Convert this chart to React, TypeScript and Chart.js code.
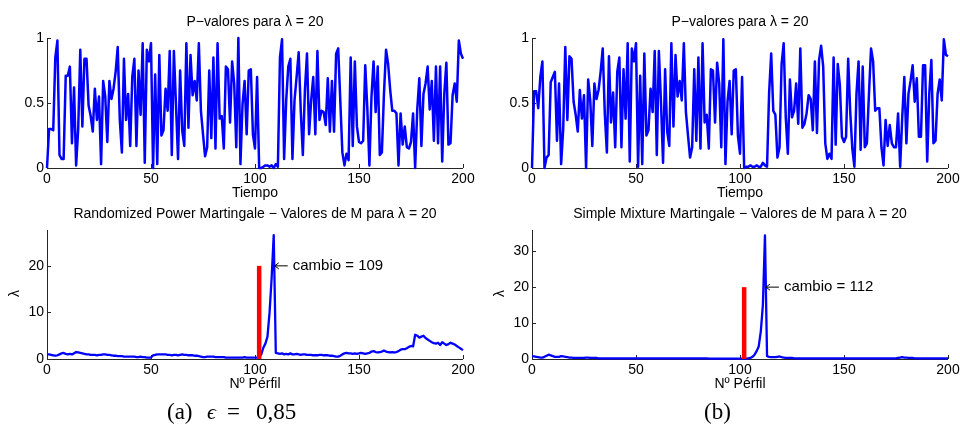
import React, { useEffect, useRef } from "react";
import { Chart, registerables } from "chart.js";

Chart.register(...registerables);

const FONT = '"Liberation Sans", Arial, Helvetica, sans-serif';
const BLUE = "#0000ff";
const RED = "#ff0000";
const AXIS = "#262626";

// x axis ticks (profile / time index)
const xTicks = [0, 50, 100, 150, 200];
const pTicks = [0, 0.5, 1];
const pTickLabels = ["0", "0.5", "1"];
const mTicksA = [0, 10, 20];
const mTickLabelsA = ["0", "10", "20"];
const mTicksB = [0, 10, 20, 30];
const mTickLabelsB = ["0", "10", "20", "30"];

// P-values, panel (a), index 0..200
const pValuesA = [
  0, 0.30, 0.30, 0.29, 0.85, 0.98, 0.10, 0.07, 0.07, 0.71,
  0.71, 0.78, 0.19, 0.62, 0.02, 0.30, 0.91, 0.32, 0.84, 0.84,
  0.48, 0.40, 0.28, 0.61, 0.37, 0.55, 0.03, 0.67, 0.55, 0.20,
  0.67, 0.53, 0.61, 0.74, 0.93, 0.37, 0.12, 0.84, 0.37, 0.57,
  0.17, 0.70, 0.84, 0.17, 0.75, 0.41, 0.96, 0.04, 0.91, 0.82,
  0.96, 0.00, 0.72, 0.03, 0.87, 0.25, 0.29, 0.61, 0.44, 0.90,
  0.10, 0.90, 0.49, 0.07, 0.75, 0.29, 0.17, 0.96, 0.31, 0.87,
  0.56, 0.67, 0.52, 0.96, 0.44, 0.26, 0.09, 0.16, 0.75, 0.23,
  0.85, 0.15, 0.96, 0.38, 0.40, 0.15, 0.78, 0.76, 0.35, 0.82,
  0.65, 0.16, 1.00, 0.03, 0.49, 0.67, 0.26, 0.75, 0.76, 0.26,
  0.15, 0.70, 0.00, 0.00, 0.01, 0.02, 0.02, 0.01, 0.02, 0.00,
  0.03, 0.01, 0.85, 0.99, 0.07, 0.52, 0.78, 0.84, 0.07, 0.52,
  0.70, 0.89, 0.44, 0.10, 0.60, 0.88, 0.26, 0.52, 0.70, 0.26,
  0.90, 0.37, 0.44, 0.43, 0.33, 0.69, 0.28, 0.67, 0.28, 0.88,
  0.92, 0.52, 0.12, 0.02, 0.11, 0.06, 0.85, 0.17, 0.82, 0.32,
  0.20, 0.19, 0.21, 0.79, 0.46, 0.02, 0.55, 0.82, 0.43, 0.78,
  0.10, 0.12, 0.57, 0.91, 0.80, 0.60, 0.44, 0.44, 0.42, 0.02,
  0.42, 0.18, 0.32, 0.16, 0.15, 0.20, 0.42, 0.00, 0.45, 0.69,
  0.17, 0.57, 0.65, 0.78, 0.45, 0.67, 0.21, 0.78, 0.19, 0.78,
  0.05, 0.57, 0.81, 0.18, 0.19, 0.56, 0.65, 0.51, 0.98, 0.88,
  0.84,
];

// P-values, panel (b), index 0..200
const pValuesB = [
  0, 0.59, 0.59, 0.46, 0.70, 0.82, 0.00, 0.08, 0.10, 0.66,
  0.70, 0.74, 0.21, 0.65, 0.03, 0.30, 0.93, 0.37, 0.86, 0.84,
  0.51, 0.41, 0.28, 0.60, 0.38, 0.56, 0.00, 0.68, 0.52, 0.17,
  0.65, 0.53, 0.60, 0.74, 0.92, 0.42, 0.12, 0.86, 0.35, 0.58,
  0.16, 0.74, 0.85, 0.16, 0.76, 0.38, 0.96, 0.05, 0.92, 0.82,
  0.96, 0.01, 0.71, 0.03, 0.88, 0.25, 0.29, 0.61, 0.43, 0.90,
  0.10, 0.90, 0.51, 0.04, 0.76, 0.28, 0.17, 0.96, 0.32, 0.87,
  0.55, 0.67, 0.52, 0.96, 0.43, 0.25, 0.08, 0.16, 0.76, 0.21,
  0.85, 0.15, 0.96, 0.35, 0.41, 0.15, 0.76, 0.75, 0.35, 0.81,
  0.65, 0.16, 0.99, 0.03, 0.51, 0.67, 0.26, 0.75, 0.76, 0.25,
  0.11, 0.70, 0.00, 0.01, 0.01, 0.02, 0.01, 0.01, 0.02, 0.01,
  0.01, 0.04, 0.02, 0.01, 0.58, 0.88, 0.44, 0.41, 0.08, 0.16,
  0.80, 0.96, 0.39, 0.11, 0.68, 0.39, 0.44, 0.65, 0.34, 0.92,
  0.31, 0.34, 0.42, 0.56, 0.53, 0.29, 0.82, 0.27, 0.83, 0.94,
  0.78, 0.19, 0.07, 0.11, 0.07, 0.85, 0.18, 0.80, 0.64, 0.24,
  0.20, 0.24, 0.84, 0.43, 0.15, 0.01, 0.57, 0.82, 0.14, 0.78,
  0.16, 0.19, 0.57, 0.92, 0.82, 0.44, 0.46, 0.46, 0.16, 0.02,
  0.37, 0.17, 0.33, 0.19, 0.16, 0.16, 0.42, 0.01, 0.39, 0.70,
  0.19, 0.57, 0.67, 0.79, 0.51, 0.69, 0.24, 0.24, 0.79, 0.79,
  0.05, 0.57, 0.83, 0.19, 0.21, 0.57, 0.68, 0.52, 0.99, 0.87,
  0.86,
];

// Randomized Power Martingale values, index 0..200
const martingaleA = [
  1.0, 1.0, 0.9, 0.8, 0.7, 0.8, 1.0, 1.2, 1.3, 1.1,
  1.0, 1.1, 1.0, 1.2, 1.5, 1.4, 1.3, 1.2, 1.1, 1.0,
  1.0, 0.9, 0.9, 0.9, 0.8, 0.9, 0.9, 1.0, 1.0, 0.9,
  0.9, 0.8, 0.7, 0.7, 0.6, 0.6, 0.6, 0.5, 0.5, 0.5,
  0.5, 0.5, 0.5, 0.4, 0.4, 0.5, 0.4, 0.4, 0.3, 0.3,
  0.3, 0.8, 0.9, 1.0, 1.0, 1.0, 1.0, 1.0, 0.9, 0.9,
  0.8, 0.9, 0.9, 0.8, 0.9, 1.0, 0.9, 0.9, 0.8, 0.8,
  0.8, 0.7, 0.7, 0.6, 0.5, 0.4, 0.4, 0.5, 0.5, 0.5,
  0.5, 0.4, 0.4, 0.4, 0.4, 0.4, 0.3, 0.3, 0.3, 0.3,
  0.3, 0.3, 0.3, 0.3, 0.3, 0.4, 0.3, 0.3, 0.3, 0.3,
  0.3, 0.3, 0.3, 1.0, 2.4, 3.3, 4.8, 10.0, 17.4, 26.6,
  1.3, 1.2, 1.1, 1.2, 1.0, 1.1, 1.0, 1.2, 1.0, 1.0,
  1.1, 1.0, 0.9, 1.0, 1.0, 0.9, 0.9, 0.9, 0.8, 0.8,
  0.8, 0.9, 0.9, 0.8, 0.8, 0.8, 0.7, 0.7, 0.6, 0.5,
  0.5, 0.7, 1.0, 1.2, 1.3, 1.2, 1.2, 1.1, 1.2, 1.1,
  1.2, 1.3, 1.2, 1.1, 1.2, 1.3, 1.6, 1.7, 1.5, 1.4,
  1.5, 1.6, 1.8, 1.6, 1.5, 1.4, 1.5, 1.4, 1.5, 1.7,
  2.0, 2.1, 2.1, 2.3, 2.6, 2.8, 2.7, 5.2, 5.0, 4.6,
  4.8, 5.0, 4.5, 4.2, 3.9, 3.6, 3.4, 3.3, 3.5, 3.0,
  3.6, 3.3, 3.0, 3.2, 3.5, 3.3, 3.1, 2.8, 2.5, 2.2,
  1.9,
];

// Simple Mixture Martingale values, index 0..200
const martingaleB = [
  0.8, 0.7, 0.6, 0.5, 0.4, 0.4, 0.6, 0.9, 1.2, 1.0,
  0.8, 0.6, 0.6, 0.6, 0.8, 0.7, 0.6, 0.5, 0.4, 0.4,
  0.3, 0.3, 0.3, 0.3, 0.3, 0.3, 0.4, 0.4, 0.3, 0.3,
  0.3, 0.3, 0.2, 0.2, 0.2, 0.2, 0.2, 0.2, 0.2, 0.2,
  0.2, 0.2, 0.2, 0.2, 0.2, 0.2, 0.2, 0.2, 0.2, 0.2,
  0.2, 0.2, 0.2, 0.2, 0.2, 0.2, 0.2, 0.2, 0.2, 0.2,
  0.2, 0.2, 0.2, 0.2, 0.2, 0.2, 0.2, 0.2, 0.2, 0.2,
  0.2, 0.2, 0.2, 0.2, 0.2, 0.2, 0.2, 0.2, 0.2, 0.2,
  0.2, 0.2, 0.2, 0.2, 0.2, 0.1, 0.1, 0.1, 0.1, 0.1,
  0.1, 0.1, 0.1, 0.1, 0.1, 0.1, 0.1, 0.1, 0.1, 0.1,
  0.1, 0.1, 0.1, 0.1, 0.2, 0.3, 0.6, 1.2, 2.2, 3.5,
  7.7, 15.0, 34.4, 0.8, 0.6, 0.5, 0.5, 0.5, 0.6, 0.7,
  0.5, 0.4, 0.3, 0.3, 0.3, 0.3, 0.2, 0.2, 0.2, 0.2,
  0.2, 0.2, 0.2, 0.2, 0.2, 0.2, 0.2, 0.2, 0.2, 0.2,
  0.2, 0.2, 0.2, 0.2, 0.2, 0.2, 0.2, 0.2, 0.2, 0.2,
  0.2, 0.2, 0.2, 0.2, 0.2, 0.2, 0.2, 0.2, 0.2, 0.2,
  0.2, 0.2, 0.2, 0.2, 0.2, 0.2, 0.2, 0.2, 0.2, 0.2,
  0.2, 0.2, 0.2, 0.2, 0.2, 0.2, 0.3, 0.4, 0.5, 0.4,
  0.4, 0.3, 0.3, 0.3, 0.2, 0.2, 0.2, 0.2, 0.2, 0.2,
  0.2, 0.2, 0.2, 0.2, 0.2, 0.2, 0.2, 0.2, 0.2, 0.2,
  0.2,
];

// true change point (red bar) and detected change
const trueChangeA = 102;
const trueChangeB = 102;
const barHeight = 20;
const detectedA = 109;
const detectedB = 112;
const yMaxA = 27.7;
const yMaxB = 35.9;

const decorPlugin = {
  id: "decor",
  beforeDatasetsDraw(chart: any) {
    const { ctx, chartArea: ca, scales } = chart;
    ctx.save();
    ctx.strokeStyle = AXIS;
    ctx.lineWidth = 1;
    ctx.beginPath();
    ctx.moveTo(ca.left + 0.5, ca.top);
    ctx.lineTo(ca.left + 0.5, ca.bottom + 0.5);
    ctx.lineTo(ca.right, ca.bottom + 0.5);
    // inward ticks
    for (const t of scales.x.ticks) {
      const px = Math.round(scales.x.getPixelForValue(t.value)) + 0.5;
      ctx.moveTo(px, ca.bottom);
      ctx.lineTo(px, ca.bottom - 4);
    }
    for (const t of scales.y.ticks) {
      const py = Math.round(scales.y.getPixelForValue(t.value)) + 0.5;
      ctx.moveTo(ca.left, py);
      ctx.lineTo(ca.left + 4, py);
    }
    ctx.stroke();
    ctx.restore();
  },
  afterDraw(chart: any, _args: any, o: any) {
    const { ctx, chartArea: ca, scales } = chart;
    ctx.save();
    ctx.fillStyle = "#000";
    ctx.font = `14px ${FONT}`;
    ctx.textAlign = "center";
    ctx.textBaseline = "middle";
    const cx = (ca.left + ca.right) / 2;
    ctx.fillText(o.title, cx, ca.top - 16);
    ctx.fillText(o.xlabel, cx, ca.bottom + 25.5);
    if (o.ylabel) {
      ctx.save();
      ctx.translate(ca.left - 32, (ca.top + ca.bottom) / 2 - 1);
      ctx.rotate(-Math.PI / 2);
      ctx.fillText(o.ylabel, 0, 0);
      ctx.restore();
    }
    if (o.annot) {
      const tx = scales.x.getPixelForValue(o.annot.x);
      const ty = scales.y.getPixelForValue(o.annot.y);
      ctx.strokeStyle = "#000";
      ctx.lineWidth = 1;
      ctx.beginPath();
      ctx.moveTo(tx + 1, ty);
      ctx.lineTo(tx + 14, ty);
      ctx.moveTo(tx + 5, ty - 3);
      ctx.lineTo(tx + 1, ty);
      ctx.lineTo(tx + 5, ty + 3);
      ctx.stroke();
      ctx.font = `15px ${FONT}`;
      ctx.textAlign = "left";
      ctx.fillText(`cambio = ${o.annot.x}`, tx + 19, ty);
    }
    ctx.restore();
  },
};

type PanelSpec = {
  series: number[];
  yMax: number;
  yTicks: number[];
  yTickLabels: string[];
  title: string;
  xlabel: string;
  ylabel?: string;
  bar?: { x: number; h: number };
  annot?: { x: number; y: number };
  box: { left: number; right: number; top: number; bottom: number };
  lineWidth: number;
};

function makeConfig(s: PanelSpec): any {
  const datasets: any[] = [
    {
      data: s.series.map((v, i) => ({ x: i, y: v })),
      borderColor: BLUE,
      borderWidth: s.lineWidth,
      pointRadius: 0,
      tension: 0,
      borderJoinStyle: "round",
      clip: false,
      order: 1,
    },
  ];
  if (s.bar) {
    datasets.push({
      data: [
        { x: s.bar.x, y: 0 },
        { x: s.bar.x, y: s.bar.h },
      ],
      borderColor: RED,
      borderWidth: 4.5,
      borderCapStyle: "butt",
      pointRadius: 0,
      clip: false,
      order: 0,
    });
  }
  const tickFont = { family: FONT, size: 14 };
  return {
    type: "line",
    data: { datasets },
    plugins: [decorPlugin],
    options: {
      responsive: false,
      devicePixelRatio: 1,
      animation: false,
      events: [],
      layout: { padding: { left: 0, bottom: 0, top: s.box.top, right: s.box.right } },
      plugins: {
        legend: { display: false },
        tooltip: { enabled: false },
        title: { display: false },
        decor: { title: s.title, xlabel: s.xlabel, ylabel: s.ylabel, annot: s.annot },
      },
      scales: {
        x: {
          type: "linear",
          min: 0,
          max: 200,
          afterBuildTicks: (sc: any) => {
            sc.ticks = xTicks.map((v) => ({ value: v }));
          },
          afterFit: (sc: any) => {
            sc.height = s.box.bottom;
            sc.paddingLeft = 0;
            sc.paddingRight = 0;
          },
          grid: { display: false, drawTicks: false },
          border: { display: false },
          ticks: {
            autoSkip: false,
            maxRotation: 0,
            padding: 2.5,
            color: "#000",
            font: tickFont,
            callback: (v: any) => String(v),
          },
        },
        y: {
          type: "linear",
          min: 0,
          max: s.yMax,
          afterBuildTicks: (sc: any) => {
            sc.ticks = s.yTicks.map((v) => ({ value: v }));
          },
          afterFit: (sc: any) => {
            sc.width = s.box.left;
            sc.paddingTop = 0;
            sc.paddingBottom = 0;
          },
          grid: { display: false, drawTicks: false },
          border: { display: false },
          ticks: {
            autoSkip: false,
            padding: 3,
            color: "#000",
            font: tickFont,
            callback: (_v: any, i: number) => s.yTickLabels[i],
          },
        },
      },
    },
  };
}

function Panel({ left, top, spec }: { left: number; top: number; spec: PanelSpec }) {
  const ref = useRef<HTMLCanvasElement>(null);
  useEffect(() => {
    const chart = new Chart(ref.current as HTMLCanvasElement, makeConfig(spec));
    return () => chart.destroy();
  }, []);
  return (
    <canvas
      ref={ref}
      width={480}
      height={200}
      style={{ position: "absolute", left, top, width: 480, height: 200 }}
    />
  );
}

const boxLeftCol = { left: 47, right: 17 };
const boxRightCol = { left: 52, right: 12 };
const boxTopRow = { top: 38, bottom: 32 };
const boxBottomRow = { top: 30, bottom: 41 };

const specs: { left: number; top: number; spec: PanelSpec }[] = [
  {
    left: 0,
    top: 0,
    spec: {
      series: pValuesA,
      yMax: 1,
      yTicks: pTicks,
      yTickLabels: pTickLabels,
      title: "P\u2212valores para \u03bb = 20",
      xlabel: "Tiempo",
      box: { ...boxLeftCol, ...boxTopRow },
      lineWidth: 2.5,
    },
  },
  {
    left: 480,
    top: 0,
    spec: {
      series: pValuesB,
      yMax: 1,
      yTicks: pTicks,
      yTickLabels: pTickLabels,
      title: "P\u2212valores para \u03bb = 20",
      xlabel: "Tiempo",
      box: { ...boxRightCol, ...boxTopRow },
      lineWidth: 2.5,
    },
  },
  {
    left: 0,
    top: 200,
    spec: {
      series: martingaleA,
      yMax: yMaxA,
      yTicks: mTicksA,
      yTickLabels: mTickLabelsA,
      title: "Randomized Power Martingale \u2212 Valores de M para \u03bb = 20",
      xlabel: "N\u00ba P\u00e9rfil",
      ylabel: "\u03bb",
      bar: { x: trueChangeA, h: barHeight },
      annot: { x: detectedA, y: barHeight },
      box: { ...boxLeftCol, ...boxBottomRow },
      lineWidth: 2.3,
    },
  },
  {
    left: 480,
    top: 200,
    spec: {
      series: martingaleB,
      yMax: yMaxB,
      yTicks: mTicksB,
      yTickLabels: mTickLabelsB,
      title: "Simple Mixture Martingale \u2212 Valores de M para \u03bb = 20",
      xlabel: "N\u00ba P\u00e9rfil",
      ylabel: "\u03bb",
      bar: { x: trueChangeB, h: barHeight },
      annot: { x: detectedB, y: barHeight },
      box: { ...boxRightCol, ...boxBottomRow },
      lineWidth: 2.3,
    },
  },
];

const serif = '"Liberation Serif", "DejaVu Serif", serif';
const capStyle: React.CSSProperties = {
  position: "absolute",
  top: 400,
  fontFamily: serif,
  fontSize: 23,
  lineHeight: "23px",
  whiteSpace: "nowrap",
  color: "#000",
};

export default function App() {
  return (
    <div
      style={{
        position: "fixed",
        left: 0,
        top: 0,
        width: 960,
        height: 441,
        background: "#fff",
        overflow: "hidden",
      }}
    >
      {specs.map((p, i) => (
        <Panel key={i} left={p.left} top={p.top} spec={p.spec} />
      ))}
      <span style={{ ...capStyle, left: 167 }}>(a)</span>
      <span style={{ ...capStyle, left: 207, fontStyle: "italic", fontSize: 22 }}>{"\u03f5"}</span>
      <span style={{ ...capStyle, left: 227 }}>=</span>
      <span style={{ ...capStyle, left: 256 }}>0,85</span>
      <span style={{ ...capStyle, left: 704 }}>(b)</span>
    </div>
  );
}
